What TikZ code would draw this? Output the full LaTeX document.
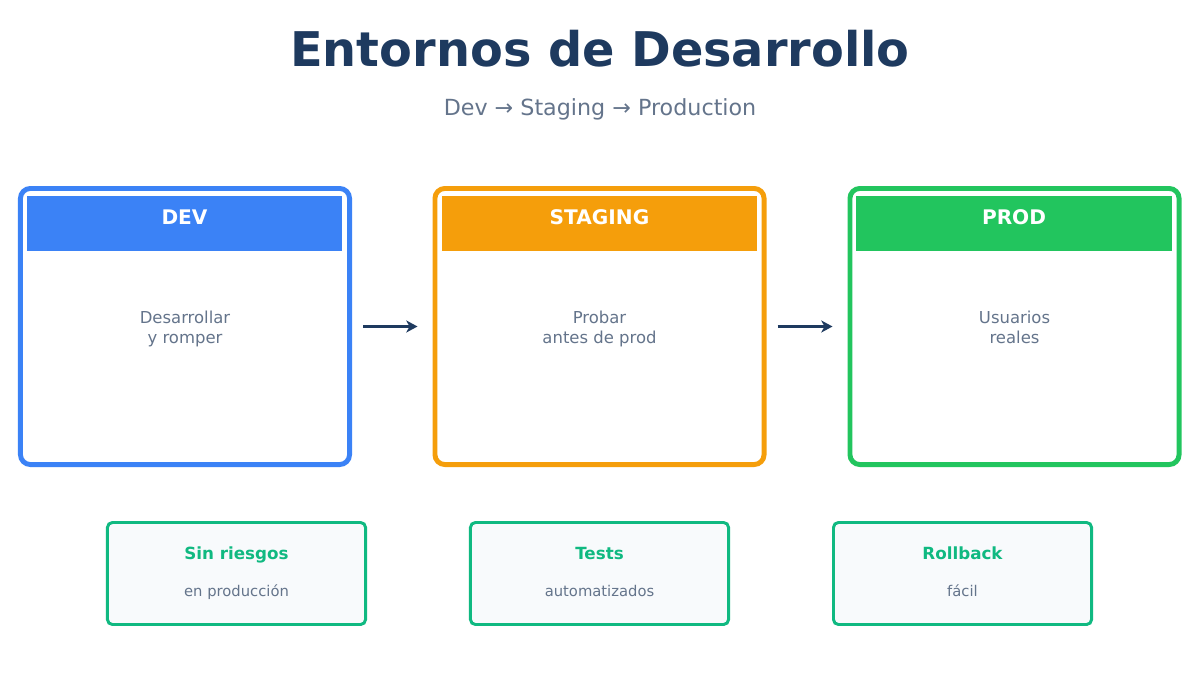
\documentclass[tikz,border=0pt]{standalone}
\usepackage{fontspec}
\setmainfont{DejaVu Sans}
\usepackage{tikz}
\usetikzlibrary{arrows.meta,positioning,calc}
\definecolor{cnavy}{HTML}{1E3A5F}
\definecolor{cgray}{HTML}{64748B}
\definecolor{cblue}{HTML}{3B82F6}
\definecolor{corange}{HTML}{F59E0B}
\definecolor{cgreen}{HTML}{22C55E}
\definecolor{cmint}{HTML}{10B981}
\definecolor{cbg}{HTML}{F8FAFC}

\begin{document}
\begin{tikzpicture}[
  x=0.025cm,y=-0.025cm,
  card/.style={rounded corners=7pt,fill=white,line width=3.5pt,
               minimum width=8.225cm,minimum height=6.9cm,inner sep=0pt},
  head/.style={minimum width=7.875cm,minimum height=1.375cm,inner sep=0pt},
  htext/.style={text=white,font=\fontsize{14.3}{17}\selectfont\bfseries},
  body/.style={text=cgray,align=center,font=\fontsize{11.7}{14.2}\selectfont},
  note/.style={rounded corners=3.5pt,draw=cmint,fill=cbg,line width=2.1pt,
               minimum width=6.45cm,minimum height=2.55cm,inner sep=0pt},
  ntitle/.style={text=cmint,font=\fontsize{11.9}{14}\selectfont\bfseries,
                 text height=8.7pt,text depth=0pt},
  nsub/.style={text=cgray,font=\fontsize{10.5}{13}\selectfont,
               text height=8pt,text depth=0pt},
  arr/.style={-{Stealth[length=2.8mm,width=3mm,inset=0.8mm]},line width=2.1pt,cnavy,
              shorten <=0.275cm,shorten >=0.375cm}]
  \useasboundingbox (0,0) rectangle (1200,675);

  \node[text=cnavy,font=\fontsize{34}{40}\selectfont\bfseries] (title) at (600,49) {Entornos de Desarrollo};
  \node[text=cgray,font=\fontsize{15.8}{19}\selectfont] (sub) at (600,109) {Dev → Staging → Production};

  % environment cards
  \node[card,draw=cblue] (dev) at (185,326.5) {};
  \node[card,draw=corange] (stg) at (599.5,326.5) {};
  \node[card,draw=cgreen] (prod) at (1014.5,326.5) {};

  \node[head,fill=cblue] (devh) at (184.5,223.5) {};
  \node[head,fill=corange] (stgh) at (599.5,223.5) {};
  \node[head,fill=cgreen] (prodh) at (1014,223.5) {};
  \node[htext] (devt) at (184.5,217) {DEV};
  \node[htext] (stgt) at (599.5,217) {STAGING};
  \node[htext] (prodt) at (1014,217) {PROD};

  \node[body] (devb) at (185,329) {Desarrollar\\y romper};
  \node[body] (stgb) at (599.5,329) {Probar\\antes de prod};
  \node[body] (prodb) at (1014.5,327.5) {Usuarios\\reales};

  \draw[arr] (dev.east) -- (stg.west);
  \draw[arr] (stg.east) -- (prod.west);

  % benefits
  \node[note] (n1) at (236.5,573.5) {};
  \node[note] (n2) at (599.5,573.5) {};
  \node[note] (n3) at (962.5,573.5) {};
  \node[ntitle] (n1t) at (236.5,553) {Sin riesgos};
  \node[ntitle] (n2t) at (599.5,553) {Tests};
  \node[ntitle] (n3t) at (962.5,553) {Rollback};
  \node[nsub] (n1s) at (236.5,591) {en producción};
  \node[nsub] (n2s) at (599.5,591) {automatizados};
  \node[nsub] (n3s) at (962.5,591) {fácil};
\end{tikzpicture}
\end{document}
